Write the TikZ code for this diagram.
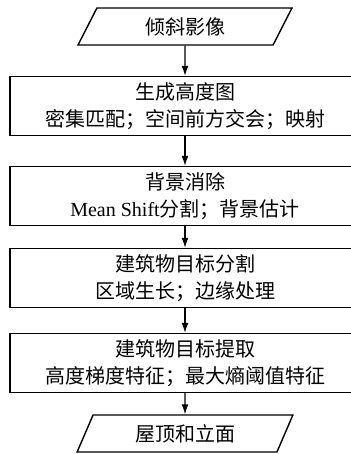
\documentclass[tikz,border=0pt]{standalone}
\usepackage{fontspec}
\setmainfont{Liberation Serif}
\newfontfamily\cjk{Noto Sans CJK SC}
\usetikzlibrary{shapes.geometric,arrows.meta}

\tikzset{
  stepbox/.style={draw, line width=1.4pt, minimum width=350pt, minimum height=59pt,
    inner sep=0pt, align=center, font=\cjk\fontsize{20}{27}\selectfont},
  iobox/.style={draw, line width=1.4pt, trapezium, trapezium left angle=65,
    trapezium right angle=115, trapezium stretches=true, minimum width=216pt,
    minimum height=37pt, inner sep=0pt, font=\cjk\fontsize{20}{27}\selectfont},
  flow/.style={line width=1.2pt, -{Latex[length=10pt,width=7pt]}}
}

\begin{document}
\begin{tikzpicture}[x=1pt, y=-1pt]
    \useasboundingbox (0,0) rectangle (350,454); % page = 350 x 454

    \node[iobox]   (src)    at (185,26.5) {倾斜影像};
    \node[stepbox] (height) at (185,106)  {生成高度图\\密集匹配；空间前方交会；映射};
    \node[stepbox] (backgr) at (185,196)  {背景消除\\{\rmfamily Mean Shift}分割；背景估计};
    \node[stepbox] (segm)   at (185,278)  {建筑物目标分割\\区域生长；边缘处理};
    \node[stepbox] (extr)   at (185,363)  {建筑物目标提取\\高度梯度特征；最大熵阈值特征};
    \node[iobox]   (result) at (185,433.5) {屋顶和立面};

    \foreach \a/\b in {src/height, height/backgr, backgr/segm, segm/extr, extr/result} {
      \draw[flow] (\a) -- (\b);
    }
\end{tikzpicture}
\end{document}
